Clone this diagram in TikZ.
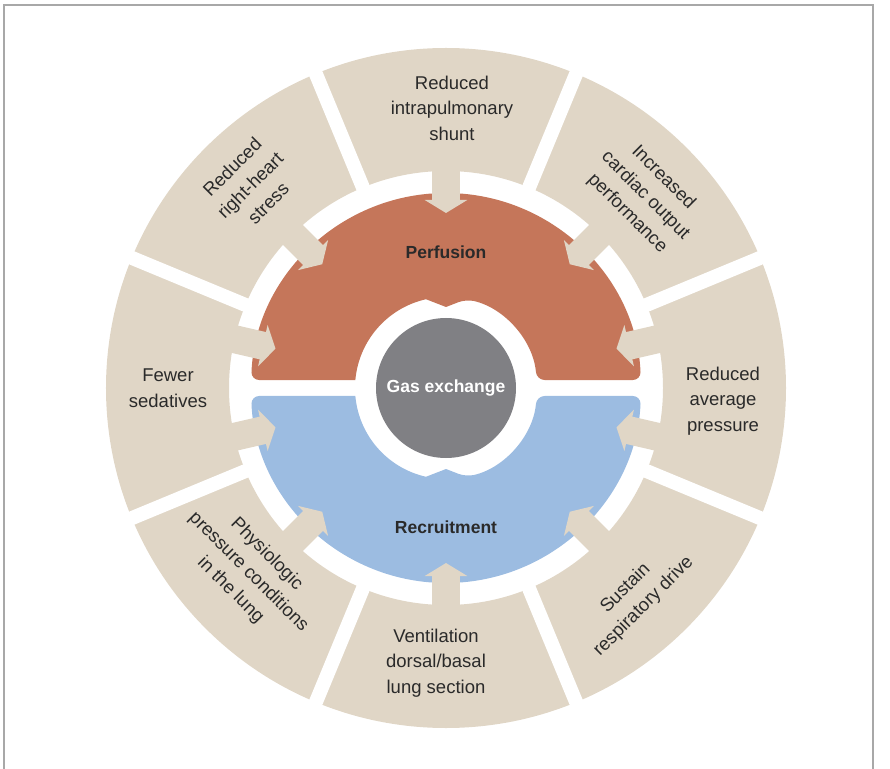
\documentclass[tikz,border=0pt]{standalone}
\usepackage{fontspec}
\setmainfont{Liberation Sans}
\usetikzlibrary{arrows.meta}
\definecolor{seg}{HTML}{E0D6C6}
\definecolor{perf}{HTML}{C5765A}
\definecolor{recr}{HTML}{9CBCE1}
\definecolor{gas}{HTML}{808084}
\definecolor{txt}{HTML}{2A2A2A}
\definecolor{framegray}{HTML}{A8A8A8}

\begin{document}
\begin{tikzpicture}[x=1pt, y=1pt,
  lbl/.style={text=txt, align=center, font=\fontsize{18.5}{25.5}\selectfont},
  hub/.style={text=txt, font=\bfseries\fontsize{17.5}{20}\selectfont},
  feed/.style={draw=seg, line width=28pt, -{Triangle[width=42pt,length=13pt]}}]
\useasboundingbox (-446,-380) rectangle (444,388);
\draw[framegray, line width=1.3pt] (-442,-395) -- (-442,383) -- (427,383) -- (427,-395);
\fill[seg, even odd rule] (0,0) circle[radius=340pt] (0,0) circle[radius=217pt];
\foreach \a in {22.5,67.5,...,337.5}
  \draw[white, line width=14pt] (\a:205pt) -- (\a:350pt);
\fill[perf] (177.65:195pt) [rounded corners=8pt]
  arc[start angle=177.65, end angle=2.35, radius=195pt] -- (5.04:91pt)
  arc[start angle=5.04, end angle=77.3, radius=91pt] [sharp corners] -- (0,81)
  -- (102.7:91pt) arc[start angle=102.7, end angle=174.96, radius=91pt]
  [rounded corners=8pt] -- cycle;
\fill[recr] (-177.65:195pt) [rounded corners=8pt]
  arc[start angle=-177.65, end angle=-2.35, radius=195pt] -- (-5.04:91pt)
  arc[start angle=-5.04, end angle=-77.3, radius=91pt] [sharp corners] -- (0,-81)
  -- (-102.7:91pt) arc[start angle=-102.7, end angle=-174.96, radius=91pt]
  [rounded corners=8pt] -- cycle;
\fill[gas] (0,0) circle[radius=70pt];
\foreach \a [count=\i] in {90,45,135,13,167,-13,193,-90,225,315}{
  \coordinate (from\i) at (\a:228pt);
  \coordinate (to\i) at (\a:175pt);
  \draw[feed] (from\i) -- (to\i);
}
\node[hub] (perfusion) at (0,136) {Perfusion};
\node[hub] (recruitment) at (0,-139) {Recruitment};
\node[hub, text=white] (gasex) at (0,0) {Gas exchange};
\node[lbl] (shunt) at (6,280) {Reduced\\intrapulmonary\\shunt};
\node[lbl, rotate=-45] (cardiac) at (44:277pt) {Increased\\cardiac output\\performance};
\node[lbl, rotate=45] (heart) at (134:282pt) {Reduced\\right-heart\\stress};
\node[lbl] (sedatives) at (-278,0) {Fewer\\sedatives};
\node[lbl] (pressure) at (277,-13) {Reduced\\average\\pressure};
\node[lbl, rotate=-45] (physio) at (223:270pt) {Physiologic\\pressure conditions\\in the lung};
\node[lbl, rotate=45] (drive) at (312:282pt) {Sustain\\respiratory drive};
\node[lbl] (ventilation) at (-10,-275) {Ventilation\\dorsal/basal\\lung section};
\end{tikzpicture}
\end{document}
